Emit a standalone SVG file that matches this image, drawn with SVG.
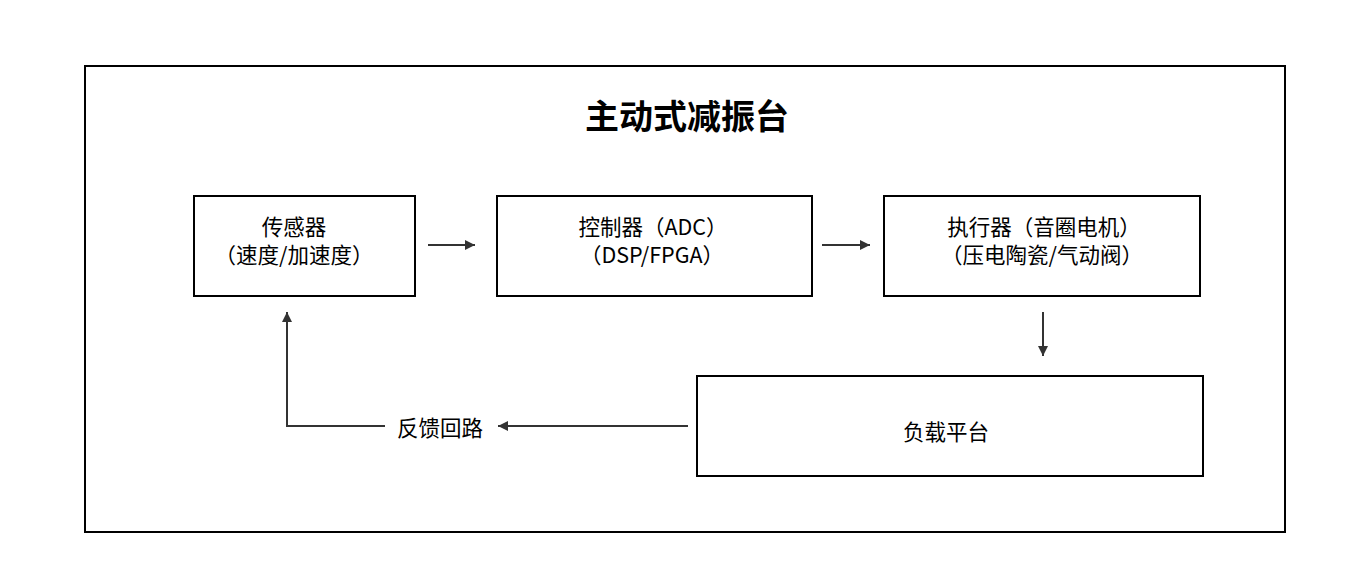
<svg xmlns="http://www.w3.org/2000/svg" width="1366" height="585" viewBox="0 0 1366 585">
<style>
.box{fill:#fff;stroke:#000;stroke-width:2}
.t{font-family:"Noto Sans CJK SC","Noto Sans",sans-serif;font-size:21.5px;fill:#000;text-anchor:middle}
.title{font-family:"Noto Sans CJK SC","Noto Sans",sans-serif;font-size:34px;font-weight:bold;fill:#000;text-anchor:middle}
.c{fill:none;stroke:#333;stroke-width:2}
</style>
<defs>
<marker id="ah" viewBox="0 0 10 10" refX="10" refY="5" markerWidth="10" markerHeight="10" markerUnits="userSpaceOnUse" orient="auto">
<path d="M0,0 L10,5 L0,10 Z" fill="#333"/>
</marker>
</defs>
<rect width="1366" height="585" fill="#fff"/>
<rect id="frame" x="85" y="66" width="1200" height="466" fill="none" stroke="#000" stroke-width="2"/>
<text id="title" class="title" x="687" y="129">主动式减振台</text>
<g id="sensor">
<rect class="box" x="194" y="196" width="221" height="100"/>
<text class="t" x="294" y="235">传感器</text>
<text class="t" x="294" y="263">（速度/加速度）</text>
</g>
<g id="controller">
<rect class="box" x="497" y="196" width="315" height="100"/>
<text class="t" x="653" y="235">控制器（ADC）</text>
<text class="t" x="652" y="263">（DSP/FPGA）</text>
</g>
<g id="actuator">
<rect class="box" x="884" y="196" width="316" height="100"/>
<text class="t" x="1044" y="235">执行器（音圈电机）</text>
<text class="t" x="1042" y="263">（压电陶瓷/气动阀）</text>
</g>
<g id="platform">
<rect class="box" x="697" y="376" width="506" height="100"/>
<text class="t" x="946" y="440">负载平台</text>
</g>
<g id="connectors">
<line class="c" x1="428" y1="245" x2="475" y2="245" marker-end="url(#ah)"/>
<line class="c" x1="822" y1="245" x2="870" y2="245" marker-end="url(#ah)"/>
<line class="c" x1="1043" y1="312" x2="1043" y2="356" marker-end="url(#ah)"/>
<line class="c" x1="688" y1="426" x2="498" y2="426" marker-end="url(#ah)"/>
<path class="c" d="M385,426 L287,426 L287,312" marker-end="url(#ah)"/>
<text id="feedback-label" class="t" x="440" y="436">反馈回路</text>
</g>
</svg>
